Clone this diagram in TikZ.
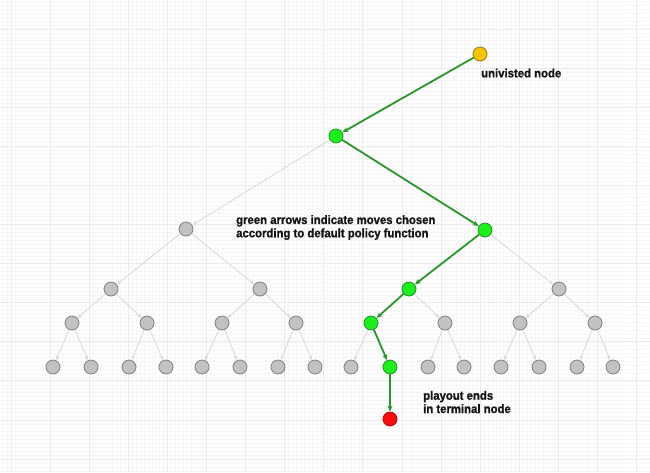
\documentclass[tikz,border=0pt]{standalone}
\usepackage{fontspec}
\setmainfont{Liberation Sans}
\newfontfamily\lblfont{Liberation Sans Bold}[FakeStretch=0.93,FakeBold=1.2]
\usetikzlibrary{arrows.meta}
\definecolor{gridmaj}{HTML}{EBEBEB}
\definecolor{gridmin}{HTML}{F7F7F7}
\definecolor{nodegray}{HTML}{C2C2C2}
\definecolor{nodegrayb}{HTML}{808080}
\definecolor{nodegreen}{HTML}{1AF01A}
\definecolor{nodegreenb}{HTML}{2E8B2E}
\definecolor{edgegreen}{HTML}{2A962A}
\definecolor{edgegray}{HTML}{D8D8D8}
\definecolor{nodeyellow}{HTML}{F8C400}
\definecolor{nodeyellowb}{HTML}{9A7A10}
\definecolor{nodered}{HTML}{FF0A0A}
\definecolor{noderedb}{HTML}{A01010}
\definecolor{lbltext}{HTML}{151515}
\tikzset{
  tn/.style={circle,minimum size=14pt,inner sep=0pt,line width=0.8pt},
  gn/.style={tn,fill=nodegray,draw=nodegrayb},
  vn/.style={tn,fill=nodegreen,draw=nodegreenb},
  yn/.style={tn,fill=nodeyellow,draw=nodeyellowb},
  rn/.style={tn,fill=nodered,draw=noderedb},
  ge/.style={draw=edgegray,line width=0.8pt,-{Stealth[length=4.5pt,width=3.5pt]}},
  ve/.style={draw=edgegreen,line width=1.8pt,-{Stealth[length=6pt,width=5pt]}},
  lbl/.style={font=\lblfont\fontsize{12.2}{13.3}\selectfont,inner sep=0pt,align=left,text=lbltext}
}
\begin{document}
\begin{tikzpicture}[x=1pt,y=-1pt]
\useasboundingbox (0,0) rectangle (650,472);
\fill[white] (0,0) rectangle (650,472);
% minor grid
\foreach \i in {0,...,166} {\draw[gridmin,line width=0.5pt] ({11+3.91*\i-39.1},0) -- ({11+3.91*\i-39.1},472);}
\foreach \i in {0,...,130} {\draw[gridmin,line width=0.5pt] (0,{29+3.91*\i-39.1}) -- (650,{29+3.91*\i-39.1});}
% major grid
\foreach \i in {0,...,16} {\draw[gridmaj,line width=1pt] ({11+39.1*\i},0) -- ({11+39.1*\i},472);}
\foreach \i in {0,...,11} {\draw[gridmaj,line width=1pt] (0,{29+39.1*\i}) -- (650,{29+39.1*\i});}

% nodes
\node[yn] (u) at (480,54) {};
\node[vn] (r) at (336,136) {};
\node[gn] (a) at (186,229) {};
\node[vn] (b) at (485,230) {};
\node[gn] (a1) at (111,289) {};
\node[gn] (a2) at (260,289) {};
\node[vn] (b1) at (409,289) {};
\node[gn] (b2) at (559,289) {};
\node[gn] (a11) at (72,323) {};
\node[gn] (a12) at (147,323) {};
\node[gn] (a21) at (222,323) {};
\node[gn] (a22) at (296,323) {};
\node[vn] (b11) at (371,323) {};
\node[gn] (b12) at (445,323) {};
\node[gn] (b21) at (520,323) {};
\node[gn] (b22) at (595,323) {};
\node[gn] (c1) at (53,367) {};
\node[gn] (c2) at (91,367) {};
\node[gn] (c3) at (129,367) {};
\node[gn] (c4) at (166,367) {};
\node[gn] (c5) at (202,367) {};
\node[gn] (c6) at (240,367) {};
\node[gn] (c7) at (278,367) {};
\node[gn] (c8) at (315,367) {};
\node[gn] (c9) at (351,367) {};
\node[vn] (c10) at (390,367) {};
\node[gn] (c11) at (428,367) {};
\node[gn] (c12) at (464,367) {};
\node[gn] (c13) at (501,367) {};
\node[gn] (c14) at (539,367) {};
\node[gn] (c15) at (577,367) {};
\node[gn] (c16) at (613,367) {};
\node[rn] (t) at (390,419) {};

% gray edges
\draw[ge] (r) -- (a);
\draw[ge] (a) -- (a1);
\draw[ge] (a) -- (a2);
\draw[ge] (b) -- (b2);
\draw[ge] (a1) -- (a11);
\draw[ge] (a1) -- (a12);
\draw[ge] (a2) -- (a21);
\draw[ge] (a2) -- (a22);
\draw[ge] (b1) -- (b12);
\draw[ge] (b2) -- (b21);
\draw[ge] (b2) -- (b22);
\draw[ge] (a11) -- (c1);
\draw[ge] (a11) -- (c2);
\draw[ge] (a12) -- (c3);
\draw[ge] (a12) -- (c4);
\draw[ge] (a21) -- (c5);
\draw[ge] (a21) -- (c6);
\draw[ge] (a22) -- (c7);
\draw[ge] (a22) -- (c8);
\draw[ge] (b11) -- (c9);
\draw[ge] (b12) -- (c11);
\draw[ge] (b12) -- (c12);
\draw[ge] (b21) -- (c13);
\draw[ge] (b21) -- (c14);
\draw[ge] (b22) -- (c15);
\draw[ge] (b22) -- (c16);
% green edges
\draw[ve] (u) -- (r);
\draw[ve] (r) -- (b);
\draw[ve] (b) -- (b1);
\draw[ve] (b1) -- (b11);
\draw[ve] (b11) -- (c10);
\draw[ve] (c10) -- (t);

% labels
\node[lbl,anchor=west] (lu) at (481,73) {univisted node};
\node[lbl,anchor=west] (lg) at (236,227.5) {green arrows indicate moves chosen\\according to default policy function};
\node[lbl,anchor=west] (lp) at (423,402) {playout ends\\in terminal node};
\end{tikzpicture}
\end{document}
